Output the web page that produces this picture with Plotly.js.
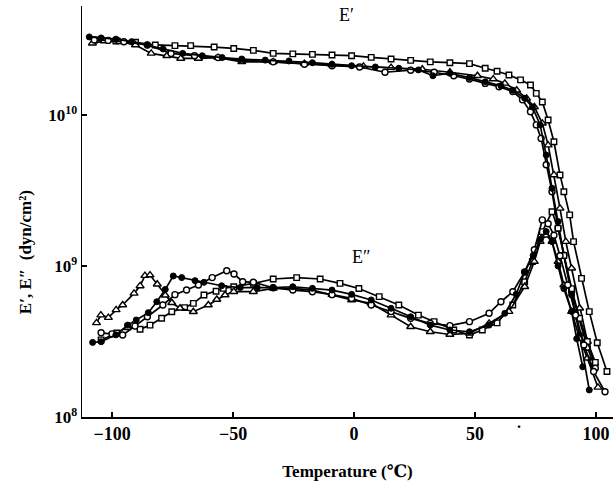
<!DOCTYPE html>
<html>
<head>
<meta charset="utf-8">
<script src="https://cdn.plot.ly/plotly-3.0.1.min.js"></script>
<style>html,body{margin:0;padding:0;background:#fff;}#chart{width:613px;height:489px;}</style>
</head>
<body>
<div id="chart"></div>
<script>
// ---- E' (storage modulus), dyn/cm^2 ----
var tFilledEp = [-109.4,-104.5,-98.4,-91.9,-85.4,-78.9,-70.8,-62.7,-54.5,-46.4,-36.7,-26.9,-17.2,-9.1,-1.0,8.8,18.5,26.6,32.6,39.6,47.7,54.2,60.7,65.6,70.5,73.7,76.9,79.4,81.8,84.3,86.7,89.9,93.2,97.2];
var eFilledEp = [3.29e10,3.24e10,3.18e10,3.06e10,2.91e10,2.74e10,2.56e10,2.47e10,2.40e10,2.35e10,2.31e10,2.28e10,2.22e10,2.17e10,2.12e10,2.08e10,2.04e10,1.99e10,1.82e10,1.89e10,1.77e10,1.66e10,1.56e10,1.46e10,1.29e10,1.13e10,8.6e9,5.43e9,3.27e9,1.97e9,1.18e9,6.43e8,3.49e8,1.51e8];

var tOpenEp = [-107.3,-101.6,-95.1,-85.4,-75.6,-65.9,-56.2,-46.4,-33.4,-20.5,-9.1,2.3,12.8,23.4,33.1,41.2,47.7,54.2,59.9,65.6,69.6,72.9,75.3,77.3,79.4,81.8,84.3,86.7,89.9,92.9,96.4,99.7];
var eOpenEp = [3.14e10,3.12e10,3.06e10,2.91e10,2.56e10,2.47e10,2.40e10,2.31e10,2.25e10,2.17e10,2.12e10,2.08e10,1.92e10,1.98e10,1.92e10,1.82e10,1.73e10,1.62e10,1.54e10,1.43e10,1.26e10,1.05e10,8.6e9,7.0e9,4.68e9,3.10e9,1.78e9,1.18e9,6.76e8,4.50e8,2.90e8,2.10e8];

var tTriEp = [-108.1,-103.2,-96.8,-90.3,-83.8,-77.3,-71.6,-64.3,-56.2,-46.4,-33.4,-20.5,-9.1,3.9,15.3,28.2,39.6,51.0,57.5,62.3,67.2,71.3,74.5,77.8,80.2,82.6,85.1,87.5,89.9,93.2,96.4,99.4];
var eTriEp = [2.99e10,3.09e10,3.06e10,2.91e10,2.56e10,2.47e10,2.37e10,2.37e10,2.40e10,2.25e10,2.25e10,2.19e10,2.15e10,2.10e10,2.06e10,2.01e10,1.92e10,1.82e10,1.73e10,1.62e10,1.46e10,1.29e10,1.13e10,8.81e9,6.32e9,4.01e9,2.41e9,1.45e9,9.66e8,5.25e8,3.16e8,2.27e8];

var tSqEp = [-107.3,-98.4,-90.3,-82.1,-74.0,-67.5,-57.8,-49.7,-41.6,-33.4,-25.3,-17.2,-9.1,-1.0,7.1,15.3,23.4,31.5,39.6,47.7,54.2,59.1,64.0,68.8,72.9,75.3,77.8,80.2,82.6,85.1,86.7,89.1,90.7,94.0,97.2,100.5,104.5];
var eSqEp = [3.14e10,3.09e10,3.03e10,2.91e10,2.88e10,2.88e10,2.82e10,2.76e10,2.68e10,2.56e10,2.54e10,2.52e10,2.50e10,2.47e10,2.41e10,2.35e10,2.30e10,2.25e10,2.22e10,2.19e10,2.04e10,1.95e10,1.84e10,1.71e10,1.58e10,1.39e10,1.22e10,9.27e9,6.65e9,4.01e9,3.10e9,2.18e9,1.45e9,8.28e8,4.99e8,3.10e8,2.00e8];

// ---- E'' (loss modulus), dyn/cm^2 ----
var tFilledEpp = [-108.0,-104.5,-98.4,-93.5,-90.0,-85.0,-81.5,-78.0,-74.7,-71.2,-65.7,-62.0,-54.7,-47.0,-40.0,-33.4,-25.3,-17.2,-9.1,-1.0,7.1,15.3,23.4,31.5,39.6,47.7,55.8,62.3,67.0,70.5,74.0,77.0,79.4,81.8,84.3,86.7,89.9,92.0,94.5];
var eFilledEpp = [3.12e8,3.15e8,3.50e8,4.06e8,4.39e8,4.91e8,5.80e8,7.00e8,8.59e8,8.38e8,8.00e8,7.80e8,7.40e8,7.20e8,7.20e8,7.20e8,7.29e8,7.11e8,6.93e8,6.49e8,5.96e8,5.25e8,4.61e8,4.06e8,3.77e8,3.67e8,4.06e8,4.86e8,6.50e8,9.12e8,1.175e9,1.50e9,1.69e9,1.45e9,1.00e9,7.08e8,5.00e8,3.30e8,2.15e8];

var tOpenEpp = [-104.5,-100.0,-95.6,-90.5,-85.4,-79.0,-74.0,-69.2,-64.3,-58.6,-52.6,-49.6,-46.0,-41.6,-33.4,-25.3,-17.2,-9.1,-1.0,7.1,15.3,23.4,31.5,39.6,47.7,55.8,60.7,65.6,70.5,74.5,77.8,80.2,82.6,85.1,88.3,91.5,95.0,99.0,103.7];
var eOpenEpp = [3.61e8,3.55e8,3.49e8,4.00e8,4.61e8,5.52e8,6.46e8,6.93e8,7.48e8,8.38e8,9.31e8,8.85e8,7.87e8,7.80e8,7.18e8,6.93e8,6.76e8,6.46e8,6.10e8,5.52e8,4.99e8,4.50e8,4.17e8,4.03e8,4.28e8,4.86e8,5.80e8,6.76e8,9.12e8,1.28e9,2.02e9,1.905e9,1.60e9,1.17e9,7.48e8,4.73e8,3.00e8,2.00e8,1.47e8];

var tTriEpp = [-106.4,-104.6,-101.5,-98.3,-95.6,-90.9,-88.4,-86.4,-84.3,-81.3,-78.0,-75.3,-71.9,-66.4,-60.2,-56.7,-53.3,-49.7,-41.6,-33.4,-25.3,-17.2,-9.1,-1.0,7.1,15.3,23.4,31.5,39.6,47.7,55.8,64.0,70.5,74.5,76.9,79.4,81.8,84.3,86.7,89.9,93.2,96.4,100.8];
var eTriEpp = [4.20e8,4.73e8,4.55e8,5.12e8,5.52e8,6.59e8,7.38e8,8.63e8,8.71e8,7.57e8,6.40e8,5.71e8,5.25e8,4.98e8,5.52e8,6.00e8,6.43e8,6.76e8,6.76e8,7.11e8,7.11e8,6.93e8,6.46e8,5.96e8,5.66e8,4.73e8,3.96e8,3.67e8,3.52e8,3.58e8,4.17e8,4.99e8,7.29e8,1.07e9,1.45e9,1.60e9,1.45e9,1.07e9,7.48e8,4.99e8,3.31e8,2.45e8,1.57e8];

var tSqEpp = [-104.5,-98.0,-93.5,-88.4,-84.3,-79.5,-75.3,-70.0,-66.4,-62.0,-57.0,-54.0,-49.7,-41.6,-33.4,-23.7,-14.0,-5.8,2.0,10.4,18.5,26.6,33.1,41.2,47.7,53.0,59.1,65.6,70.5,73.7,77.8,81.8,84.3,86.7,89.9,93.2,96.4,99.7];
var eSqEpp = [3.24e8,3.60e8,3.96e8,3.81e8,4.06e8,4.51e8,4.98e8,5.30e8,5.66e8,6.43e8,6.80e8,7.11e8,7.29e8,7.67e8,8.20e8,8.38e8,8.20e8,7.67e8,7.10e8,6.27e8,5.52e8,4.73e8,4.28e8,3.77e8,3.49e8,3.77e8,4.20e8,5.52e8,7.87e8,1.07e9,1.69e9,2.29e9,1.78e9,1.175e9,7.08e8,4.50e8,3.16e8,2.30e8];

// ---- axis ticks ----
var xTickVals = [-100,-50,0,50,100];
var xTickText = ["\u2212100","\u221250","0","50","100"];
var yTickVals = [1e8,1e9,1e10];
var yTickText = ["10<sup>8</sup>","10<sup>9</sup>","10<sup>10</sup>"];

var LINE = {color:'#000', width:1.7};
function styleFor(kind){
  if(kind==='filled') return {symbol:'circle', size:6, color:'#000', line:{color:'#000', width:1}};
  if(kind==='open') return {symbol:'circle', size:6, color:'#fff', line:{color:'#000', width:1.4}};
  if(kind==='tri') return {symbol:'triangle-up', size:7, color:'#fff', line:{color:'#000', width:1.4}};
  return {symbol:'square', size:5.5, color:'#fff', line:{color:'#000', width:1.4}};
}
function tr(x,y,kind){
  return {x:x, y:y, type:'scatter', mode:'lines+markers', line:LINE, marker:styleFor(kind), showlegend:false, hoverinfo:'skip'};
}
var data = [
  tr(tSqEp,eSqEp,'sq'), tr(tTriEp,eTriEp,'tri'), tr(tOpenEp,eOpenEp,'open'), tr(tFilledEp,eFilledEp,'filled'),
  tr(tSqEpp,eSqEpp,'sq'), tr(tTriEpp,eTriEpp,'tri'), tr(tOpenEpp,eOpenEpp,'open'), tr(tFilledEpp,eFilledEpp,'filled')
];

var serif = 'Liberation Serif, DejaVu Serif, serif';
var layout = {
  width:613, height:489,
  margin:{l:82, r:0, t:6, b:72},
  paper_bgcolor:'#fff', plot_bgcolor:'#fff',
  showlegend:false,
  font:{family:serif, color:'#000'},
  xaxis:{
    range:[-112.4,107.0], showgrid:false, zeroline:false,
    showline:true, linecolor:'#000', linewidth:1.5, mirror:false,
    ticks:'inside', ticklen:5, tickwidth:1.5, tickcolor:'#000',
    tickvals:xTickVals, ticktext:xTickText,
    tickfont:{family:serif, size:18, color:'#000', weight:'bold'},
    title:{text:'Temperature (\u2103)', font:{family:serif, size:17, color:'#000', weight:'bold'}, standoff:22}
  },
  yaxis:{
    type:'log', range:[8, 10.722], showgrid:false, zeroline:false,
    showline:true, linecolor:'#000', linewidth:1.5, mirror:false,
    ticks:'inside', ticklen:5, tickwidth:1.5, tickcolor:'#000',
    tickvals:yTickVals, ticktext:yTickText,
    tickfont:{family:serif, size:17, color:'#000', weight:'bold'}
  },
  annotations:[
    {text:'E\u2032', x:-3, y:10.66, xref:'x', yref:'y', showarrow:false, font:{family:serif, size:18, color:'#000'}},
    {text:'E\u2033', x:3, y:9.06, xref:'x', yref:'y', showarrow:false, font:{family:serif, size:18, color:'#000'}},
    {text:'E\u2032, E\u2033  (dyn/cm\u00b2)', textangle:-90, x:-0.128, y:0.40, xref:'paper', yref:'paper', showarrow:false,
     font:{family:serif, size:17, color:'#000', weight:'bold'}},
    {text:'.', x:68, y:-0.04, xref:'x', yref:'paper', showarrow:false, font:{family:serif, size:16, color:'#000', weight:'bold'}}
  ]
};
Plotly.newPlot('chart', data, layout, {staticPlot:true, displayModeBar:false});
</script>
</body>
</html>
